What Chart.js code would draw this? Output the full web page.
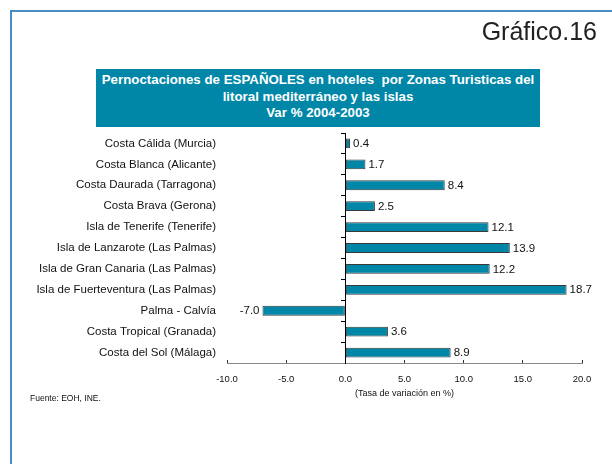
<!DOCTYPE html>
<html>
<head>
<meta charset="utf-8">
<script src="https://cdn.jsdelivr.net/npm/chart.js@4.4.0/dist/chart.umd.min.js"></script>
<style>
  body { margin: 0; background: #fff; }
  #wrap { position: relative; width: 612px; height: 464px; overflow: hidden; background: #fff; font-family: "Liberation Sans", Arial, sans-serif; }
  #marco { position: absolute; left: 10px; top: 10px; width: 700px; height: 600px; border: 2px solid #4a8cc8; }
  #grafico { position: absolute; left: 0; top: 17px; width: 597px; text-align: right; font-size: 25px; line-height: 28px; color: #222; }
  #titulo { position: absolute; left: 96px; top: 69px; width: 444px; height: 55px; padding-top: 3px; background: #0087a8; color: #fff; font-weight: bold; font-size: 13.3px; line-height: 16.5px; text-align: center; }
  #fuente { position: absolute; left: 30px; top: 393px; font-size: 8.5px; line-height: 10px; color: #111; }
  canvas { position: absolute; left: 0; top: 0; }
</style>
</head>
<body>
<div id="wrap">
  <div id="marco"></div>
  <canvas id="zonasCV" width="612" height="464"></canvas>
  <div id="grafico">Gráfico.16</div>
  <div id="titulo">Pernoctaciones de ESPAÑOLES en hoteles&nbsp; por Zonas Turisticas del<br>litoral mediterráneo y las islas<br>Var % 2004-2003</div>
  <div id="fuente">Fuente: EOH, INE.</div>
</div>
<script>
const zonas = [
  'Costa Cálida (Murcia)',
  'Costa Blanca (Alicante)',
  'Costa Daurada (Tarragona)',
  'Costa Brava (Gerona)',
  'Isla de Tenerife (Tenerife)',
  'Isla de Lanzarote (Las Palmas)',
  'Isla de Gran Canaria (Las Palmas)',
  'Isla de Fuerteventura (Las Palmas)',
  'Palma - Calvía',
  'Costa Tropical (Granada)',
  'Costa del Sol (Málaga)'
];
const variacion = [0.4, 1.7, 8.4, 2.5, 12.1, 13.9, 12.2, 18.7, -7.0, 3.6, 8.9];
const ejeX = { min: -10, max: 20, paso: 5 };
const tituloEje = '(Tasa de variación en %)';

(function(){
  const ctx = document.getElementById('zonasCV');
  const fuente = '"Liberation Sans", Arial, sans-serif';

  // etiquetas con el valor al final de cada barra
  const etiquetas = {
    id: 'etiquetas',
    afterDatasetsDraw(chart) {
      const c = chart.ctx;
      const meta = chart.getDatasetMeta(0);
      c.save();
      c.font = '11.5px ' + fuente;
      c.fillStyle = '#111';
      c.textBaseline = 'middle';
      meta.data.forEach(function(bar, i) {
        const v = variacion[i];
        c.textAlign = v < 0 ? 'right' : 'left';
        c.fillText(v.toFixed(1), v < 0 ? bar.x - 3 : bar.x + 3, bar.y + 0.5);
      });
      c.restore();
    }
  };

  new Chart(ctx, {
    type: 'bar',
    data: {
      labels: zonas,
      datasets: [{
        data: variacion,
        backgroundColor: '#0087a8',
        borderColor: '#3a3a3a',
        borderWidth: 1,
        borderSkipped: false,
        categoryPercentage: 1,
        barPercentage: 0.47
      }]
    },
    plugins: [etiquetas],
    options: {
      indexAxis: 'y',
      responsive: false,
      animation: false,
      layout: {
        padding: { left: 0, right: 30, top: 133, bottom: 65 }
      },
      plugins: {
        legend: { display: false },
        tooltip: { enabled: false }
      },
      scales: {
        x: {
          min: ejeX.min,
          max: ejeX.max,
          afterFit: function(scale) { scale.height = 36; },
          ticks: {
            stepSize: ejeX.paso,
            padding: 14,
            color: '#111',
            font: { family: fuente, size: 9.5 },
            callback: function(v) { return Number(v).toFixed(1); }
          },
          grid: {
            drawOnChartArea: false,
            tickLength: -3,
            color: '#333'
          },
          border: { color: '#888', width: 1 },
          title: {
            display: true,
            text: tituloEje,
            color: '#111',
            padding: { top: 2, bottom: 0 },
            font: { family: fuente, size: 9 }
          }
        },
        y: {
          afterFit: function(scale) { scale.width = 227; },
          grid: { display: false, drawTicks: false },
          border: { display: false },
          ticks: {
            padding: 11,
            color: '#111',
            font: { family: fuente, size: 11.5 }
          }
        },
        y2: {
          type: 'category',
          position: { x: 0 },
          offset: true,
          grid: {
            offset: true,
            drawOnChartArea: false,
            tickLength: 4,
            color: '#000'
          },
          border: { color: '#000', width: 1 },
          ticks: { display: false }
        }
      }
    }
  });
})();
</script>
</body>
</html>
